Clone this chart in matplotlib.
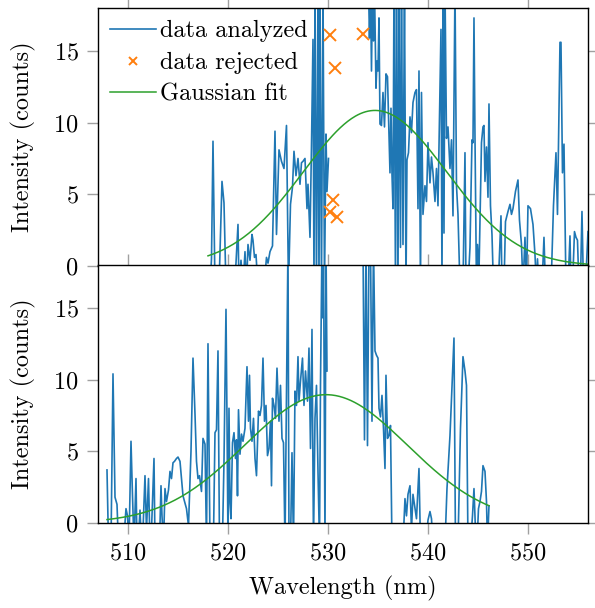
import numpy as np
import matplotlib
matplotlib.use("Agg")
import matplotlib.pyplot as plt

plt.rcParams['font.family'] = 'serif'
plt.rcParams['font.serif'] = ['cmr10', 'DejaVu Serif']
plt.rcParams['mathtext.fontset'] = 'cm'
plt.rcParams['axes.formatter.use_mathtext'] = True
plt.rcParams['font.size'] = 17.5

nan = np.nan

# top panel: analyzed spectrum (wavelength nm, counts), gap where data was rejected
top_wl = [518.2, 518.35, 518.5, 518.7, 518.9, 519.1, 519.4, 519.6, 519.8, 520.0,
          520.2, 520.4, 520.6, 520.8, 521.0, 521.1, 521.3, 521.5, 521.7, 521.85,
          522.0, 522.2, 522.4, 522.5, 522.65, 522.8, 523.0, 523.2, 523.4, 523.6,
          523.85, 524.0, 524.2, 524.45, 524.7, 524.85, 525.1, 525.35, 525.6, 525.85,
          526.05, 526.25, 526.45, 526.6, 526.8, 527.0, 527.2, 527.35, 527.5, 527.7,
          527.9, 528.0, 528.2, 528.35, 528.5, 528.6, 528.7, 528.85, 529.0, 529.1,
          529.2, 529.35, 529.5, 529.65, 529.8, 529.9, 530.05, 532.0,
          534.05, 534.15, 534.25, 534.35, 534.45, 534.55, 534.65, 534.8, 534.9, 535.0,
          535.1, 535.2, 535.35, 535.5, 535.65, 535.8, 535.95, 536.2, 536.3, 536.4,
          536.5, 536.6, 536.75, 536.85, 537.0, 537.1, 537.25, 537.35, 537.5, 537.65,
          537.8, 537.9, 538.05, 538.2, 538.35, 538.5, 538.7, 538.85, 539.0, 539.1,
          539.25, 539.35, 539.5, 539.7, 539.85, 540.0, 540.2, 540.35, 540.5, 540.7,
          540.85, 541.0, 541.3, 541.4, 541.5, 541.6, 541.7, 541.85, 542.0, 542.2,
          542.35, 542.5, 542.7, 542.85, 543.0, 543.2, 543.35, 543.5, 543.7, 543.8,
          544.0, 544.2, 544.4, 544.5, 544.6, 544.7, 544.85, 544.95, 545.1, 545.35,
          545.5, 545.6, 545.7, 545.85, 546.0, 546.1, 546.25, 546.4, 546.55, 546.7,
          546.9, 547.05, 547.3, 547.4, 547.6, 547.75, 548.0, 548.2, 548.35, 548.5,
          548.75, 549.0, 549.15, 549.35, 549.5, 549.7, 549.85, 550.0, 550.25, 550.5,
          550.7, 550.85, 550.95, 551.1, 551.4, 551.6, 551.75, 552.0, 552.35, 552.55,
          552.8, 552.95, 553.2, 553.3, 553.45, 553.6, 553.8, 554.0, 554.2, 554.3,
          554.45, 554.65, 554.8, 554.95, 555.1, 555.25, 555.4, 555.55, 555.75, 556.0]
top_counts = [-1.5, 0.5, 8.7, -1.5, -1.0, -1.5, 5.9, 4.4, -1.5, -1.5,
              -1.0, -1.5, -1.5, 0.2, 2.9, -1.5, 0.4, -1.5, 1.0, -1.5,
              1.5, 0.4, 2.2, 1.8, 0.6, 0.8, -1.5, -0.3, -1.5, -1.5,
              0.6, 0.2, 1.0, 1.4, 9.4, 2.2, 8.1, 7.3, 6.8, 9.8,
              -1.5, 4.3, 5.5, 8.0, 6.3, 7.5, 5.7, 7.2, 7.3, 7.5,
              4.0, 5.7, 2.0, 8.4, 15.8, -1.5, 19.5, -1.5, 19.5, -1.5,
              19.0, -1.5, 19.5, -1.5, 9.2, 5.2, 7.5, nan,
              19.5, 15.9, 19.5, 13.6, 19.5, 15.7, 19.5, 12.4, 14.3, 13.6,
              17.3, 9.9, 9.8, 12.1, 9.7, 13.4, 13.2, 6.5, 11.0, 6.4,
              4.0, 19.5, -1.5, 19.5, -1.5, 19.5, 1.3, 19.5, 1.5, 19.5,
              -1.5, 7.4, 7.9, 10.4, 9.3, 11.4, 12.1, 12.3, 4.0, 13.6,
              -1.5, 12.1, 3.6, 5.6, 4.5, 8.6, 5.8, 7.6, 6.5, 4.5,
              6.8, 4.2, 16.5, -1.5, 19.5, 2.3, 19.5, 8.9, 9.7, 6.8,
              8.8, 3.5, 19.5, 5.6, 3.6, -1.5, -0.5, -1.5, 7.9, -1.5,
              -1.5, 1.3, 8.8, 8.6, 17.3, 9.0, -1.5, 1.5, -0.5, 8.6,
              9.7, 9.8, 5.9, 8.3, 4.8, 11.3, 4.2, 2.2, -1.5, -1.5,
              -1.5, -1.0, 3.5, -1.5, -1.5, 3.1, 3.8, 4.3, 3.6, 4.0,
              5.2, 6.0, 3.2, 1.5, -1.5, 2.0, -1.5, 4.2, 4.0, 2.9,
              0.8, -1.5, 0.5, -1.5, -1.5, 2.0, -1.5, -1.5, -0.5, 4.2,
              7.9, 3.6, 15.6, 15.6, 6.5, 8.5, -1.5, -1.5, 2.1, -1.5,
              -1.5, 2.4, 2.0, 1.8, -1.5, -1.0, 3.8, -1.5, -1.5, 2.4]

# top panel: rejected points
rej_wl = [530.2, 530.7, 533.5, 530.5, 530.2, 530.9]
rej_counts = [16.1, 13.8, 16.2, 4.6, 3.8, 3.4]

# top panel: gaussian fit parameters (amplitude, centre, sigma), fit range
top_fit = (10.85, 534.7, 7.15)
top_fit_range = (518.0, 556.0)

# bottom panel: analyzed spectrum
bot_wl = [507.9, 508.05, 508.3, 508.5, 508.7, 508.9, 509.05, 509.3, 509.55, 509.8,
          509.95, 510.1, 510.3, 510.45, 510.6, 510.8, 510.9, 511.05, 511.2, 511.35,
          511.5, 511.7, 511.85, 512.05, 512.2, 512.35, 512.6, 512.7, 512.9, 513.15,
          513.3, 513.4, 513.55, 513.7, 513.85, 514.05, 514.2, 514.35, 514.5, 514.65,
          514.85, 515.0, 515.2, 515.35, 515.5, 515.7, 515.85, 516.05, 516.3, 516.5,
          516.7, 516.85, 517.0, 517.15, 517.35, 517.5, 517.7, 517.85, 518.0, 518.2,
          518.35, 518.55, 518.7, 518.85, 519.0, 519.15, 519.3, 519.45, 519.6, 519.8,
          519.9, 520.0, 520.1, 520.2, 520.3, 520.45, 520.6, 520.75, 520.85, 520.95,
          521.05, 521.2, 521.35, 521.5, 521.7, 521.9, 522.05, 522.15, 522.25, 522.4,
          522.55, 522.7, 522.85, 523.05, 523.2, 523.35, 523.5, 523.65, 523.8, 523.95,
          524.1, 524.25, 524.35, 524.45, 524.6, 524.75, 524.9, 525.1, 525.25, 525.4,
          525.55, 525.7, 525.85, 526.0, 526.1, 526.25, 526.4, 526.55, 526.7, 526.85,
          527.0, 527.1, 527.25, 527.45, 527.6, 527.75, 527.95, 528.1, 528.25, 528.4,
          528.55, 528.7, 528.85, 529.0, 529.15, 529.25, 529.4, 529.5, 529.55, 529.7,
          529.8, 529.9, 531.5,
          533.5, 533.65, 533.8, 533.95, 534.1, 534.25, 534.4, 534.55, 534.7, 534.85,
          535.0, 535.1, 535.25, 535.4, 535.55, 535.7, 535.8, 535.95, 536.1, 536.25,
          536.4, 536.6, 536.9, 537.2, 537.5, 537.7, 537.85, 538.0, 538.2, 538.35,
          538.5, 538.7, 538.85, 539.1, 539.25, 539.5, 539.8, 540.0, 540.2, 540.35,
          540.5, 540.8, 541.1, 541.4, 541.7, 541.9, 542.2, 542.6, 542.75, 543.0,
          543.25, 543.5, 543.7, 543.85, 544.0, 544.25, 544.45, 544.6, 544.75, 544.9,
          545.05, 545.2, 545.35, 545.5, 545.7, 545.85, 545.95, 546.1]
bot_counts = [3.7, -1.5, -1.5, 10.4, 1.8, 1.3, -1.5, -1.5, -1.5, 1.0,
              0.5, -1.5, 5.7, 1.9, -1.5, 3.1, -1.5, -1.0, 0.9, -1.5,
              -0.5, 3.3, -0.5, 3.1, -1.5, -0.5, 4.5, -1.5, -1.5, -1.5,
              2.6, 0.5, -1.5, 2.4, 1.5, 2.3, 3.6, 3.1, 4.2, 4.3,
              4.5, 4.6, 4.3, 3.1, 1.9, 1.4, 1.0, -0.2, 5.0, 11.5,
              7.6, 4.3, 3.1, 3.3, 2.2, 5.9, 5.5, -1.5, 12.5, -1.5,
              -1.5, -1.0, 6.3, 6.5, 12.0, -1.5, -1.5, -1.0, 4.3, 14.9,
              7.3, -1.5, 8.0, 1.4, 0.3, 5.6, 6.3, 4.5, 5.8, 1.9,
              7.9, 4.8, 6.2, 5.7, 6.6, 10.9, 7.1, 10.3, 6.6, 5.7,
              7.3, 4.5, 3.3, 7.8, 7.5, 8.2, 11.5, 7.1, 8.2, 4.7,
              5.2, 7.1, 2.6, 8.7, 8.2, 7.3, 10.8, 7.1, 9.6, 5.9,
              5.6, -1.5, 9.4, 19.5, -1.5, -1.5, 4.9, -1.5, 9.2, 8.2,
              11.6, 8.5, 9.9, 11.5, 8.2, 10.6, 8.5, 12.2, 5.2, 13.5,
              -1.5, 7.3, 9.6, 3.6, -1.5, 9.6, 19.5, 14.3, 19.5, -1.5,
              19.5, 10.6, nan,
              19.5, 5.8, 19.5, 5.4, 19.5, 19.5, 7.1, 19.5, 12.0, 11.7,
              11.5, 8.0, 7.4, 8.9, 6.6, 3.8, 10.3, 5.9, 6.1, 6.8,
              -1.5, -1.5, -1.5, -1.5, -1.5, 1.7, 0.5, 2.0, 2.6, -0.5,
              2.0, 1.0, 0.3, 3.8, -1.5, -1.5, -1.5, 0.2, 0.8, 0.3,
              -1.5, -1.5, -1.5, -1.5, -1.5, 2.4, 6.1, 12.9, -1.5, -1.5,
              6.6, 11.6, 10.6, 9.6, -1.5, -1.5, 0.5, 2.4, -0.5, -1.5,
              1.0, 1.5, 2.2, 4.0, 3.6, 1.5, -1.5, 1.2]

bot_fit = (8.95, 529.8, 8.14)
bot_fit_range = (507.9, 546.1)

xlim = (507.0, 556.0)
ylim = (0, 18)
tick_gray = '#a0a0a0'


def gauss(x, p):
    a, mu, s = p
    return a * np.exp(-(x - mu) ** 2 / (2 * s ** 2))


fig = plt.figure(figsize=(5.95, 6.08), dpi=100)
ax1 = fig.add_axes([0.1647, 0.5625, 0.8235, 0.4245])
ax2 = fig.add_axes([0.1647, 0.1398, 0.8235, 0.4245])

ax1.plot(top_wl, top_counts, color='#1f77b4', lw=1.2, label='data analyzed')
ax1.plot(rej_wl, rej_counts, ls='none', marker='x', color='#ff7f0e',
         ms=9, mew=1.4, label='data rejected')
xf = np.linspace(top_fit_range[0], top_fit_range[1], 300)
ax1.plot(xf, gauss(xf, top_fit), color='#2ca02c', lw=1.1, label='Gaussian fit')

ax2.plot(bot_wl, bot_counts, color='#1f77b4', lw=1.2)
xf2 = np.linspace(bot_fit_range[0], bot_fit_range[1], 300)
ax2.plot(xf2, gauss(xf2, bot_fit), color='#2ca02c', lw=1.1)

for ax in (ax1, ax2):
    ax.set_xlim(*xlim)
    ax.set_ylim(*ylim)
    ax.set_xticks([510, 520, 530, 540, 550])
    ax.set_yticks([0, 5, 10, 15])
    ax.tick_params(direction='out', length=8, width=1, color=tick_gray,
                   top=True, right=True, labelsize=17.5, pad=6)
    ax.set_ylabel('Intensity (counts)', fontsize=17.5, labelpad=12)
    for sp in ax.spines.values():
        sp.set_linewidth(1.0)

ax1.tick_params(labelbottom=False)
ax2.set_xlabel('Wavelength (nm)', fontsize=17.5, labelpad=8)

leg = ax1.legend(loc='upper left', frameon=False, fontsize=17.5,
                 handlelength=1.9, handletextpad=0.15, labelspacing=0.4,
                 borderaxespad=0.1, markerscale=0.7)

fig.savefig('out.png', dpi=100)
